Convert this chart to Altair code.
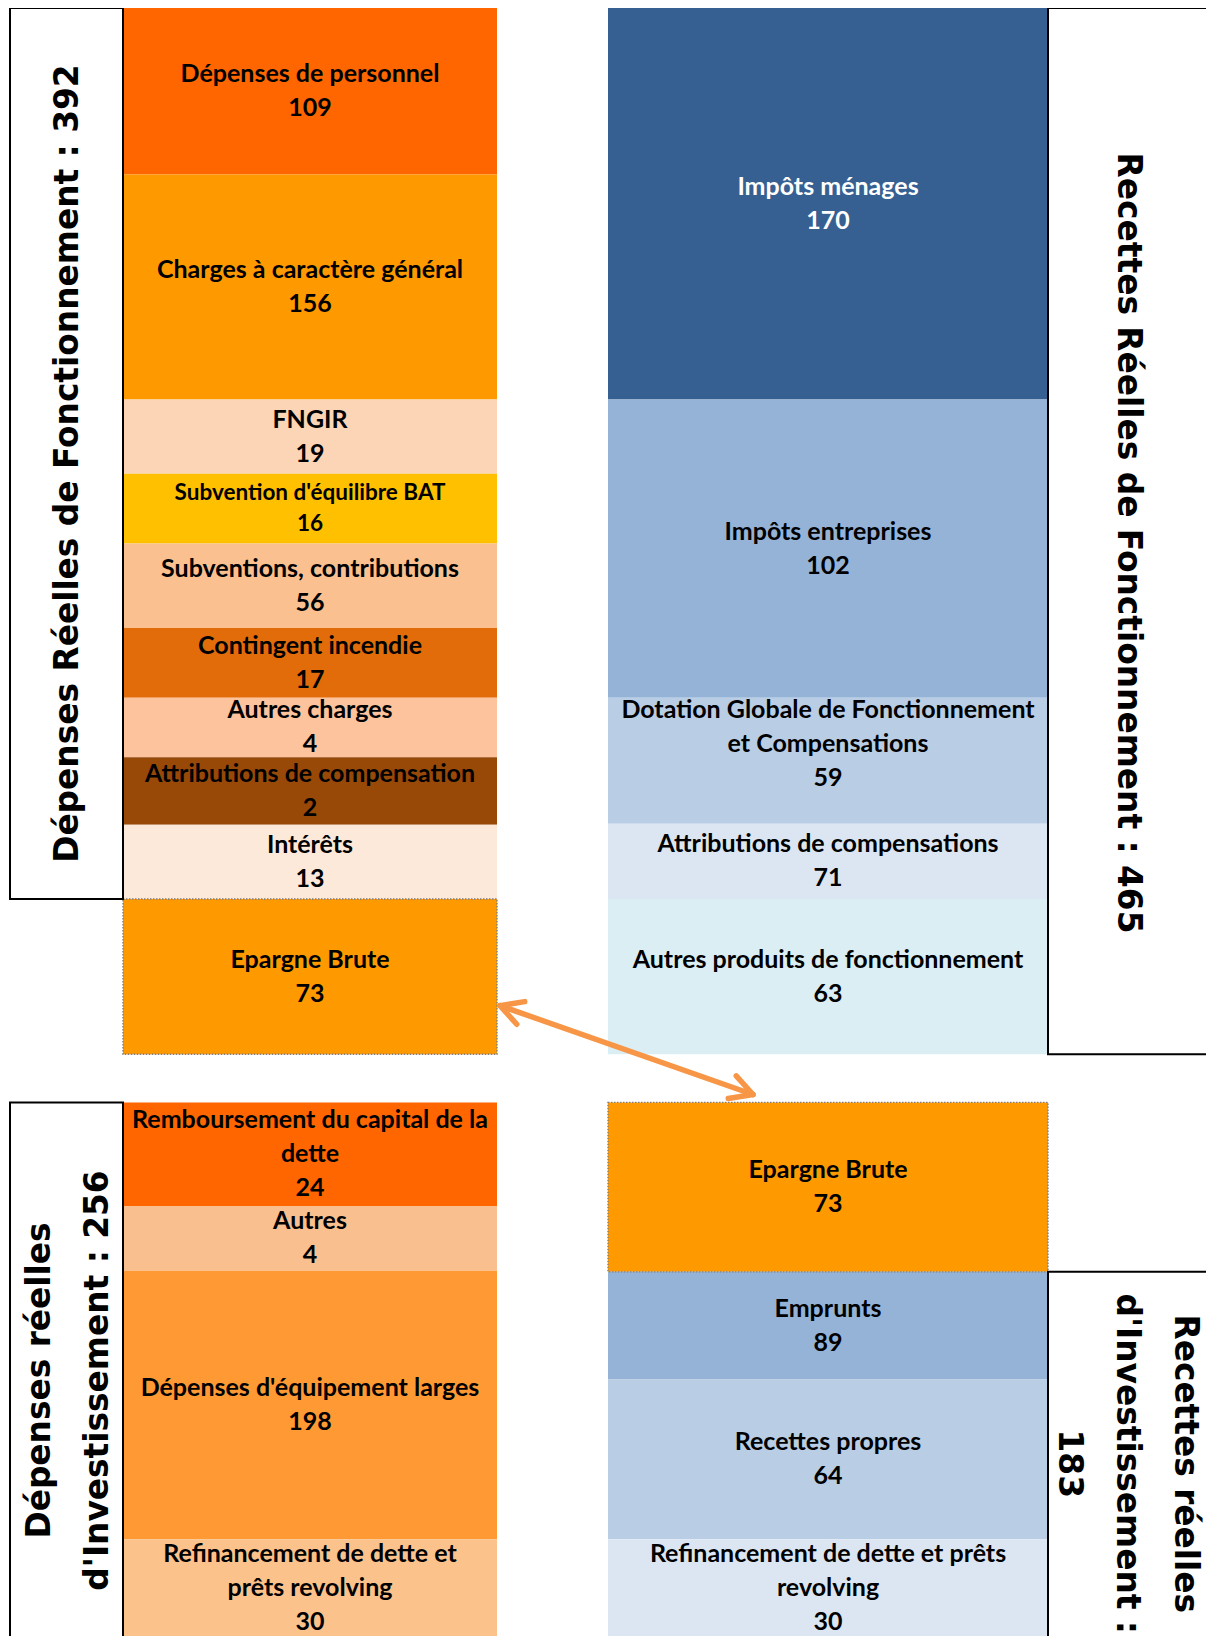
import math
import altair as alt
import pandas as pd

# ------------------------------------------------------------------ data
# Dépenses réelles de fonctionnement (left column, top) + Epargne Brute
dep_fonct_labels = ["Dépenses de personnel", "Charges à caractère général", "FNGIR",
                    "Subvention d'équilibre BAT", "Subventions, contributions",
                    "Contingent incendie", "Autres charges",
                    "Attributions de compensation", "Intérêts", "Epargne Brute"]
dep_fonct_values = [109, 156, 19, 16, 56, 17, 4, 2, 13, 73]

# Recettes réelles de fonctionnement (right column, top)
rec_fonct_labels = ["Impôts ménages", "Impôts entreprises",
                    "Dotation Globale de Fonctionnement\net Compensations",
                    "Attributions de compensations",
                    "Autres produits de fonctionnement"]
rec_fonct_values = [170, 102, 59, 71, 63]

# Dépenses réelles d'investissement (left column, bottom)
dep_inv_labels = ["Remboursement du capital de la\ndette", "Autres",
                  "Dépenses d'équipement larges",
                  "Refinancement de dette et\nprêts revolving"]
dep_inv_values = [24, 4, 198, 30]

# Recettes réelles d'investissement (right column, bottom)
rec_inv_labels = ["Epargne Brute", "Emprunts", "Recettes propres",
                  "Refinancement de dette et prêts\nrevolving"]
rec_inv_values = [73, 89, 64, 30]

# totals shown in the side boxes
totals = [392, 465, 256, 183]
side_titles = [
    f"Dépenses Réelles de Fonctionnement : {totals[0]}",
    f"Recettes Réelles de Fonctionnement : {totals[1]}",
    f"Dépenses réelles\nd'Investissement : {totals[2]}",
    f"Recettes réelles\nd'Investissement :\n{totals[3]}",
]

# ------------------------------------------------------------------ layout / style
# drawn heights of the blocks as they appear in the picture (display units)
dep_fonct_drawn = [74, 100, 33, 31, 37.5, 31, 26.5, 30, 33, 69]
rec_fonct_drawn = [174, 132.5, 56, 33.5, 69]
dep_inv_drawn = [46, 28.8, 119.4, 43.5]
rec_inv_drawn = [75.3, 47.8, 71.1, 43.5]
SECTION_GAP = 21.4

dep_fonct_colors = ["#FF6600", "#FF9900", "#FBD5B5", "#FFC000", "#FAC090",
                    "#E36C0A", "#FCC39C", "#984807", "#FDE9D9", "#FF9900"]
rec_fonct_colors = ["#376092", "#95B3D7", "#B9CDE5", "#DCE6F2", "#DBEEF4"]
dep_inv_colors = ["#FF6600", "#F9BF8F", "#FF9933", "#FBC28C"]
rec_inv_colors = ["#FF9900", "#95B3D7", "#B9CDE5", "#DCE6F2"]

WHITE_TEXT = {"Impôts ménages"}
SMALL_TEXT = {"Subvention d'équilibre BAT"}
TRAILING_BLANK = {"Dotation Globale de Fonctionnement\net Compensations"}

W, H = 1198, 1628
PX_PER_UNIT = 2.25
Y_MAX = H / PX_PER_UNIT

LBOX_X = (2, 115)
LCOL_X = (115, 489)
RCOL_X = (600, 1040)
RBOX_X = (1040, 1290)

BLOCK_FONT = "Lato"
TITLE_FONT = "DejaVu Sans"
FS, LH = 25, 34
FS_SMALL, LH_SMALL = 22.5, 30.5
TITLE_FS, TITLE_LH = 32.8, 58


def build_blocks(labels, values, drawn, colors, xr, y_start):
    rows, y = [], y_start
    for lab, val, h, col in zip(labels, values, drawn, colors):
        txt = lab + "\n" + str(val) + ("\n" if lab in TRAILING_BLANK else "")
        n = txt.count("\n") + 1
        small = lab in SMALL_TEXT
        lh = LH_SMALL if small else LH
        ym = y + h / 2
        rows.append(dict(label=lab, value=val, x0=xr[0], x1=xr[1],
                         xm=(xr[0] + xr[1]) / 2, y0=y, y1=y + h,
                         yt=ym - (n - 1) * lh / 2 / PX_PER_UNIT,
                         fill=col, text=txt,
                         tcolor="white" if lab in WHITE_TEXT else "black",
                         small=small, epargne=lab == "Epargne Brute"))
        y += h
    return rows, y


rows1, top_end = build_blocks(dep_fonct_labels, dep_fonct_values, dep_fonct_drawn,
                              dep_fonct_colors, LCOL_X, 0)
rows2, _ = build_blocks(rec_fonct_labels, rec_fonct_values, rec_fonct_drawn,
                        rec_fonct_colors, RCOL_X, 0)
bottom_start = top_end + SECTION_GAP
rows3, _ = build_blocks(dep_inv_labels, dep_inv_values, dep_inv_drawn,
                        dep_inv_colors, LCOL_X, bottom_start)
rows4, _ = build_blocks(rec_inv_labels, rec_inv_values, rec_inv_drawn,
                        rec_inv_colors, RCOL_X, bottom_start)
blocks = pd.DataFrame(rows1 + rows2 + rows3 + rows4)

# side boxes: left top closes at end of the expense blocks (before Epargne Brute)
left_top_end = sum(dep_fonct_drawn[:-1])
right_inv_box_top = bottom_start + rec_inv_drawn[0]
boxes = pd.DataFrame([
    dict(x0=LBOX_X[0], x1=LBOX_X[1], y0=0, y1=left_top_end),
    dict(x0=RBOX_X[0], x1=RBOX_X[1], y0=0, y1=top_end),
    dict(x0=LBOX_X[0], x1=LBOX_X[1], y0=bottom_start, y1=Y_MAX + 40),
    dict(x0=RBOX_X[0], x1=RBOX_X[1], y0=right_inv_box_top, y1=Y_MAX + 40),
])

# side titles: centre of the text block, then first-line anchor
title_centres = [(60, 202.5, 270), (1120, 237.8, 90), (60.7, 610, 270), (1119, 647, 90)]
trows = []
for txt, (cx, cy, ang) in zip(side_titles, title_centres):
    n = txt.count("\n") + 1
    off = (n - 1) * TITLE_LH / 2
    ax = cx - off if ang == 270 else cx + off
    trows.append(dict(text=txt, x=ax, y=cy, angle=ang))
titles = pd.DataFrame(trows)

# double arrow linking the two "Epargne Brute" blocks
a_start = (LCOL_X[1] + 3, 443.4)
a_end = (RCOL_X[0] + 145, bottom_start - 3.5)
dxp = a_end[0] - a_start[0]
dyp = (a_end[1] - a_start[1]) * PX_PER_UNIT
L = math.hypot(dxp, dyp)
ux, uy = dxp / L, dyp / L
HEAD_L, HEAD_W = 22, 12
segs = [dict(x=a_start[0], y=a_start[1], x2=a_end[0], y2=a_end[1])]
for (tx, ty), sgn in ((a_start, 1), (a_end, -1)):
    for side in (1, -1):
        wx = tx + sgn * HEAD_L * ux + side * HEAD_W * (-uy)
        wy = ty + (sgn * HEAD_L * uy + side * HEAD_W * ux) / PX_PER_UNIT
        segs.append(dict(x=tx, y=ty, x2=wx, y2=wy))
arrow = pd.DataFrame(segs)

# ------------------------------------------------------------------ chart
xs = alt.Scale(domain=[0, W], range=[0, W], nice=False, zero=False)
ys = alt.Scale(domain=[0, Y_MAX], nice=False, zero=False, reverse=True)


def X(f):
    return alt.X(f, type="quantitative", scale=xs, axis=None)


def Y(f):
    return alt.Y(f, type="quantitative", scale=ys, axis=None)


rects = alt.Chart(blocks).mark_rect(strokeWidth=0).encode(
    x=X("x0"), x2=alt.X2("x1"), y=Y("y0"), y2=alt.Y2("y1"),
    color=alt.Color("fill:N", scale=None),
)

epargne_border = alt.Chart(blocks).transform_filter("datum.epargne").mark_rect(
    fillOpacity=0, stroke="#7F7F7F", strokeWidth=1.4, strokeDash=[1.5, 1.5]
).encode(x=X("x0"), x2=alt.X2("x1"), y=Y("y0"), y2=alt.Y2("y1"))

box_layer = alt.Chart(boxes).mark_rect(
    fillOpacity=0, stroke="black", strokeWidth=2
).encode(x=X("x0"), x2=alt.X2("x1"), y=Y("y0"), y2=alt.Y2("y1"))

text_normal = alt.Chart(blocks).transform_filter("!datum.small").mark_text(
    font=BLOCK_FONT, fontWeight="bold", fontSize=FS, lineBreak="\n",
    lineHeight=LH, align="center", baseline="middle"
).encode(x=X("xm"), y=Y("yt"), text="text:N",
         color=alt.Color("tcolor:N", scale=None))

text_small = alt.Chart(blocks).transform_filter("datum.small").mark_text(
    font=BLOCK_FONT, fontWeight="bold", fontSize=FS_SMALL, lineBreak="\n",
    lineHeight=LH_SMALL, align="center", baseline="middle"
).encode(x=X("xm"), y=Y("yt"), text="text:N",
         color=alt.Color("tcolor:N", scale=None))

title_layer = alt.Chart(titles).mark_text(
    font=TITLE_FONT, fontWeight="bold", fontSize=TITLE_FS, lineBreak="\n",
    lineHeight=TITLE_LH, align="center", baseline="middle", color="black"
).encode(x=X("x"), y=Y("y"), text="text:N",
         angle=alt.Angle("angle:Q", scale=None))

arrow_layer = alt.Chart(arrow).mark_rule(
    color="#F79646", strokeWidth=5.5, strokeCap="round"
).encode(x=X("x"), y=Y("y"), x2=alt.X2("x2"), y2=alt.Y2("y2"))

chart = alt.layer(
    rects, epargne_border, box_layer, text_normal, text_small, title_layer, arrow_layer
).properties(
    width=W, height=H, padding=0,
    autosize=alt.AutoSizeParams(type="none"),
).configure_view(stroke=None)

chart.save("out.html", embed_options={"renderer": "svg", "actions": False})
